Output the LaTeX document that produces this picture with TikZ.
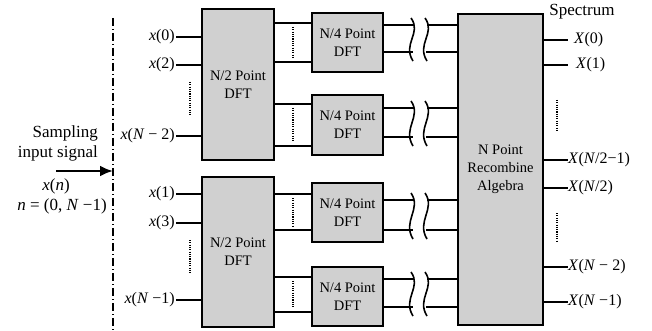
\documentclass[tikz,border=0pt]{standalone}
\usepackage{fontspec}
\setmainfont{Liberation Serif}
\usetikzlibrary{arrows.meta}
\begin{document}
\begin{tikzpicture}[x=1pt,y=-1pt,
  box/.style={draw=black,line width=1.6pt,fill=boxgray,inner sep=0pt,outer sep=0pt,align=center,font=\fontsize{14.5}{18}\selectfont},
  wire/.style={line width=1.6pt},
  dots/.style={line width=1.6pt,dash pattern=on 1.1pt off 1.2pt},
  lbl/.style={inner sep=1pt,font=\fontsize{16}{18}\selectfont},
  big/.style={inner sep=0pt,font=\fontsize{17}{20}\selectfont},
  brk/.style={line width=1.6pt}]
\definecolor{boxgray}{RGB}{208,208,208}
\useasboundingbox (0,0) rectangle (652,331);
% boxes
\node[box,minimum width=72pt,minimum height=151pt] (A) at (238,84.5) {N/2 Point\\DFT};
\node[box,minimum width=72pt,minimum height=150pt] (B) at (238,252) {N/2 Point\\DFT};
\node[box,minimum width=71pt,minimum height=59pt] (C1) at (347.5,42.5) {N/4 Point\\DFT};
\node[box,minimum width=71pt,minimum height=60pt] (C2) at (347.5,125) {N/4 Point\\DFT};
\node[box,minimum width=71pt,minimum height=59pt] (C3) at (347.5,212.5) {N/4 Point\\DFT};
\node[box,minimum width=71pt,minimum height=59pt] (C4) at (347.5,296.5) {N/4 Point\\DFT};
\node[box,minimum width=85pt,minimum height=311pt] (D) at (500.5,169.5) {N Point\\Recombine\\Algebra};
% inputs
\node[lbl,anchor=east] (x0) at (176,37) {\textit{x}(0)};
\node[lbl,anchor=east] (x2) at (176,65) {\textit{x}(2)};
\node[lbl,anchor=east] (xN2) at (176,136) {\textit{x}(\textit{N} − 2)};
\node[lbl,anchor=east] (x1) at (176,194) {\textit{x}(1)};
\node[lbl,anchor=east] (x3) at (176,223) {\textit{x}(3)};
\node[lbl,anchor=east] (xN1) at (176,300) {\textit{x}(\textit{N} −1)};
\foreach \n/\b in {x0/A,x2/A,xN2/A,x1/B,x3/B,xN1/B}
  \draw[wire] (\n.east) -- (\n.east -| \b.west);
\coordinate (da1) at (190,82); \coordinate (da2) at (190,115);
\coordinate (db1) at (190,240); \coordinate (db2) at (190,274);
\draw[dots] (da1) -- (da2);
\draw[dots] (db1) -- (db2);
% A/B to C
\foreach \b/\c/\ya/\yb in {A/C1/23/62,A/C2/104/146,B/C3/194/230,B/C4/277/312}{
  \draw[wire] (\b.east |- 0,\ya) -- (\c.west |- 0,\ya);
  \draw[wire] (\b.east |- 0,\yb) -- (\c.west |- 0,\yb);
  \draw[dots] (293,\ya+4) -- (293,\yb-4);
}
% C to D with breaks
\foreach \c/\ya/\yb in {C1/25/52,C2/108/137,C3/200/230,C4/279/307}{
  \draw[wire] (\c.east |- 0,\ya) -- (414,\ya);
  \draw[wire] (\c.east |- 0,\yb) -- (413,\yb);
  \draw[wire] (427,\ya) -- (427,\ya -| D.west);
  \draw[wire] (426,\yb) -- (426,\yb -| D.west);
  \foreach \xx in {412,426}{
    \draw[brk] (\xx-1,\ya-7) .. controls (\xx+10,\ya+0.3*\yb-0.3*\ya) and (\xx-10,\ya+0.7*\yb-0.7*\ya) .. (\xx+1,\yb+9);
  }
}
% outputs
\node[big,anchor=center] (spec) at (582,12) {Spectrum};
\node[lbl,anchor=west] (X0) at (573,40) {\textit{X}(0)};
\node[lbl,anchor=west] (X1) at (575,65) {\textit{X}(1)};
\node[lbl,anchor=west] (XA) at (567,160) {\textit{X}(\textit{N}/2−1)};
\node[lbl,anchor=west] (XB) at (567,188) {\textit{X}(\textit{N}/2)};
\node[lbl,anchor=west] (XC) at (567,267) {\textit{X}(\textit{N} − 2)};
\node[lbl,anchor=west] (XD) at (567,302) {\textit{X}(\textit{N} −1)};
\foreach \n/\xe in {X0/568,X1/568,XA/568,XB/568,XC/568,XD/568}
  \draw[wire] (\n.west -| D.east) -- (\xe,0 |- \n.west);
\coordinate (do1) at (557,100); \coordinate (do2) at (557,130);
\coordinate (do3) at (557,213); \coordinate (do4) at (557,242);
\draw[dots] (do1) -- (do2);
\draw[dots] (do3) -- (do4);
% left side
\coordinate (vt) at (113,18); \coordinate (vb) at (113,331);
\draw[line width=1.2pt,dash pattern=on 8pt off 3pt on 1pt off 3pt] (vt) -- (vb);
\node[big,anchor=east,align=right] (samp) at (98,143) {Sampling\\input signal};
\coordinate (arS) at (56,171); \coordinate (arE) at (113,171);
\draw[line width=2.6pt,-{Latex[length=13pt,width=11pt]}] (arS) -- (arE);
\node[big] (xn) at (56,186) {\textit{x}(\textit{n})};
\node[big] (nrange) at (62,206) {\textit{n} = (0, \textit{N} −1)};
\end{tikzpicture}
\end{document}
